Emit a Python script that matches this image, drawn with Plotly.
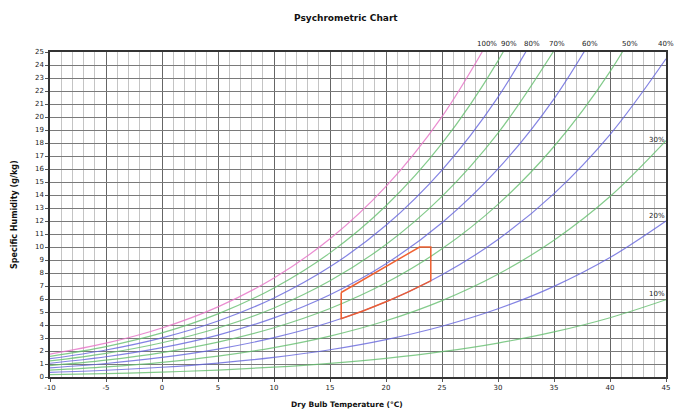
import plotly.graph_objects as go

# ---------------- data ----------------
temps = [-10, -5, 0, 5, 10, 15, 20, 25, 30, 35, 40, 45]

rh_labels = ["100%", "90%", "80%", "70%", "60%", "50%", "40%", "30%", "20%", "10%"]

# specific humidity (g/kg) at each temperature, per relative-humidity curve
w_100 = [1.766, 2.601, 3.773, 5.397, 7.618, 10.63, 14.66, 20.03, 27.14]
w_90 = [1.589, 2.340, 3.393, 4.853, 6.848, 9.548, 13.17, 17.97, 24.32, 32.66]
w_80 = [1.411, 2.079, 3.015, 4.310, 6.080, 8.472, 11.67, 15.92, 21.53, 28.87]
w_70 = [1.235, 1.818, 2.636, 3.768, 5.313, 7.401, 10.19, 13.89, 18.76, 25.11]
w_60 = [1.058, 1.557, 2.258, 3.227, 4.548, 6.333, 8.714, 11.87, 16.01, 21.40, 28.40]
w_50 = [0.8815, 1.298, 1.881, 2.687, 3.786, 5.268, 7.245, 9.858, 13.28, 17.73, 23.49, 30.90]
w_40 = [0.7050, 1.038, 1.504, 2.147, 3.025, 4.208, 5.783, 7.861, 10.58, 14.11, 18.65, 24.48]
w_30 = [0.5284, 0.7781, 1.127, 1.610, 2.266, 3.150, 4.327, 5.878, 7.902, 10.52, 13.88, 18.18]
w_20 = [0.3523, 0.5184, 0.7511, 1.072, 1.509, 2.096, 2.878, 3.906, 5.246, 6.974, 9.188, 12.00]
w_10 = [0.1761, 0.2591, 0.3753, 0.5355, 0.7535, 1.047, 1.435, 1.947, 2.612, 3.468, 4.560, 5.944]

curves = [w_100, w_90, w_80, w_70, w_60, w_50, w_40, w_30, w_20, w_10]

# comfort zone outline
comfort_t = [16, 16, 18, 20, 22, 24, 24, 23, 16]
comfort_w = [6.5, 4.488, 5.098, 5.783, 6.546, 7.400, 10.0, 10.0, 6.5]

x_ticks = [-10, -5, 0, 5, 10, 15, 20, 25, 30, 35, 40, 45]
y_ticks = list(range(0, 26))

# label placement (°C) for RH labels above the chart
top_label_t = [29.0, 31.0, 33.0, 35.3, 38.2, 41.8, 45.0]
# right-side labels (g/kg)
side_label_w = [18.2, 12.4, 6.4]

# ---------------- figure ----------------
PINK = "rgba(230,120,200,0.85)"
GREEN = "rgba(100,190,110,0.8)"
BLUE = "rgba(100,100,220,0.8)"
colors = [PINK, GREEN, BLUE, GREEN, BLUE, GREEN, BLUE, GREEN, BLUE, GREEN]

fig = go.Figure()
for name, wv, col in zip(rh_labels, curves, colors):
    fig.add_trace(go.Scatter(
        x=temps[:len(wv)], y=wv, mode="lines", name=name,
        line=dict(color=col, width=1.2, shape="spline", smoothing=1.0),
        hoverinfo="skip", showlegend=False))

fig.add_trace(go.Scatter(
    x=comfort_t, y=comfort_w, mode="lines", name="Comfort zone",
    line=dict(color="rgba(240,90,40,0.95)", width=1.5),
    hoverinfo="skip", showlegend=False))

annotations = []
for lab, t in zip(rh_labels[:7], top_label_t):
    annotations.append(dict(x=t, y=25, xref="x", yref="y", text=lab,
                            showarrow=False, yanchor="bottom", yshift=2,
                            font=dict(size=7, color="#222")))
for lab, w in zip(rh_labels[7:], side_label_w):
    annotations.append(dict(x=44.2, y=w, xref="x", yref="y", text=lab,
                            showarrow=False, xanchor="center",
                            font=dict(size=7, color="#222")))

annotations.append(dict(x=0.48, y=1.0, xref="paper", yref="paper", yanchor="bottom",
                        yshift=27, text="<b>Psychrometric Chart</b>", showarrow=False,
                        font=dict(size=9, color="#111")))
annotations.append(dict(x=0.482, y=0, xref="paper", yref="paper", yanchor="top",
                        yshift=-21, text="<b>Dry Bulb Temperature (°C)</b>", showarrow=False,
                        font=dict(size=7.5, color="#111")))
annotations.append(dict(x=0, y=0.5, xref="paper", yref="paper", xanchor="right",
                        xshift=-29, text="<b>Specific Humidity (g/kg)</b>", showarrow=False,
                        textangle=-90, font=dict(size=8, color="#111")))

fig.update_layout(
    width=680, height=415,
    margin=dict(l=50, r=10, t=52, b=38),
    paper_bgcolor="white", plot_bgcolor="white",
    font=dict(family="DejaVu Sans, Arial, sans-serif", size=7, color="#222"),
    annotations=annotations,
)

fig.update_xaxes(
    range=[-10, 45], tickvals=x_ticks, ticktext=[str(v) for v in x_ticks],
    showgrid=True, gridcolor="#666666", gridwidth=1,
    minor=dict(dtick=1, showgrid=True, gridcolor="#c4c4c4", gridwidth=1),
    showline=True, linecolor="#333", linewidth=1.5, mirror=True,
    ticks="outside", ticklen=3, tickcolor="#555",
    zeroline=False, tickfont=dict(size=7, color="#222"),
)
fig.update_yaxes(
    range=[0, 25], tickvals=y_ticks, ticktext=[str(v) for v in y_ticks],
    showgrid=True, gridcolor="#7a7a7a", gridwidth=1,
    showline=True, linecolor="#333", linewidth=1.5, mirror=True,
    ticks="outside", ticklen=3, tickcolor="#555",
    zeroline=False, tickfont=dict(size=7, color="#222"),
)

fig.write_html("out.html")
